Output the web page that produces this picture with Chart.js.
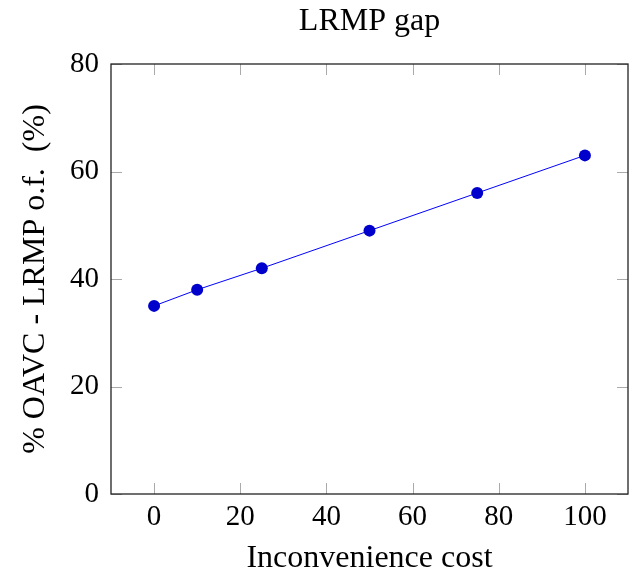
<!DOCTYPE html>
<html>
<head>
<meta charset="utf-8">
<title>LRMP gap</title>
<script src="https://cdn.jsdelivr.net/npm/chart.js@4/dist/chart.umd.min.js"></script>
<style>
  html, body { margin: 0; padding: 0; background: #fff; }
  #wrap { width: 630px; height: 579px; }
</style>
</head>
<body>
<div id="wrap"><canvas id="gapChart" width="630" height="579"></canvas></div>
<script>
// inconvenience cost vs. % gap between OAVC and LRMP objective
const costs = [0, 10, 25, 50, 75, 100];
const gapPct = [35, 38, 42, 49, 56, 63];
const xTickValues = [0, 20, 40, 60, 80, 100];
const yTickValues = [0, 20, 40, 60, 80];
const chartTitle = 'LRMP gap';

const serif = "'Liberation Serif', 'DejaVu Serif', serif";

// pgfplots-like frame with inward ticks on all four sides,
// plus the title centred over the plot area rather than the canvas
const framePlugin = {
  id: 'frame',
  afterDraw(chart) {
    const { ctx, chartArea: a, scales } = chart;
    const len = 11;
    ctx.save();
    ctx.strokeStyle = '#aaaaaa';
    ctx.lineWidth = 1;
    ctx.beginPath();
    scales.x.ticks.forEach(t => {
      const px = Math.round(scales.x.getPixelForValue(t.value)) + 0.5;
      ctx.moveTo(px, a.bottom); ctx.lineTo(px, a.bottom - len);
      ctx.moveTo(px, a.top); ctx.lineTo(px, a.top + len);
    });
    scales.y.ticks.forEach(t => {
      const py = Math.round(scales.y.getPixelForValue(t.value)) + 0.5;
      ctx.moveTo(a.left, py); ctx.lineTo(a.left + len, py);
      ctx.moveTo(a.right, py); ctx.lineTo(a.right - len, py);
    });
    ctx.stroke();
    ctx.strokeStyle = '#222222';
    ctx.lineWidth = 1.3;
    ctx.strokeRect(a.left, a.top, a.right - a.left, a.bottom - a.top);

    ctx.fillStyle = '#000';
    ctx.font = '32px ' + serif;
    ctx.textAlign = 'center';
    ctx.textBaseline = 'middle';
    ctx.fillText(chartTitle, (a.left + a.right) / 2, 22);
    ctx.restore();
  }
};

const ctx = document.getElementById('gapChart').getContext('2d');
new Chart(ctx, {
  type: 'line',
  data: {
    datasets: [{
      data: costs.map((c, i) => ({ x: c, y: gapPct[i] })),
      borderColor: '#0000ff',
      borderWidth: 1,
      pointBackgroundColor: '#0000cc',
      pointBorderColor: '#0000cc',
      pointRadius: 6,
      pointBorderWidth: 0,
      tension: 0,
      fill: false
    }]
  },
  options: {
    responsive: false,
    animation: false,
    layout: { autoPadding: false, padding: { left: 0, right: 2, top: 64, bottom: 0 } },
    plugins: {
      legend: { display: false },
      tooltip: { enabled: false },
      title: { display: false }
    },
    scales: {
      x: {
        type: 'linear',
        min: -10,
        max: 110,
        afterBuildTicks: s => { s.ticks = xTickValues.map(v => ({ value: v })); },
        afterFit: s => { s.height = 85; s.paddingLeft = 0; s.paddingRight = 0; },
        grid: { display: false, drawTicks: false },
        border: { display: false },
        ticks: {
          color: '#000',
          padding: 6,
          font: { family: serif, size: 29 }
        },
        title: {
          display: true,
          text: 'Inconvenience cost',
          color: '#000',
          font: { family: serif, size: 32 },
          padding: { top: 0, bottom: 1 }
        }
      },
      y: {
        type: 'linear',
        min: 0,
        max: 80,
        afterBuildTicks: s => { s.ticks = yTickValues.map(v => ({ value: v })); },
        afterFit: s => { s.width = 111; s.paddingTop = 0; s.paddingBottom = 0; },
        grid: { display: false, drawTicks: false },
        border: { display: false },
        ticks: {
          color: '#000',
          padding: 12,
          font: { family: serif, size: 29 }
        },
        title: {
          display: true,
          text: '% OAVC - LRMP o.f.  (%)',
          color: '#000',
          font: { family: serif, size: 32 },
          padding: { top: 16, bottom: 0 }
        }
      }
    }
  },
  plugins: [framePlugin]
});
</script>
</body>
</html>
